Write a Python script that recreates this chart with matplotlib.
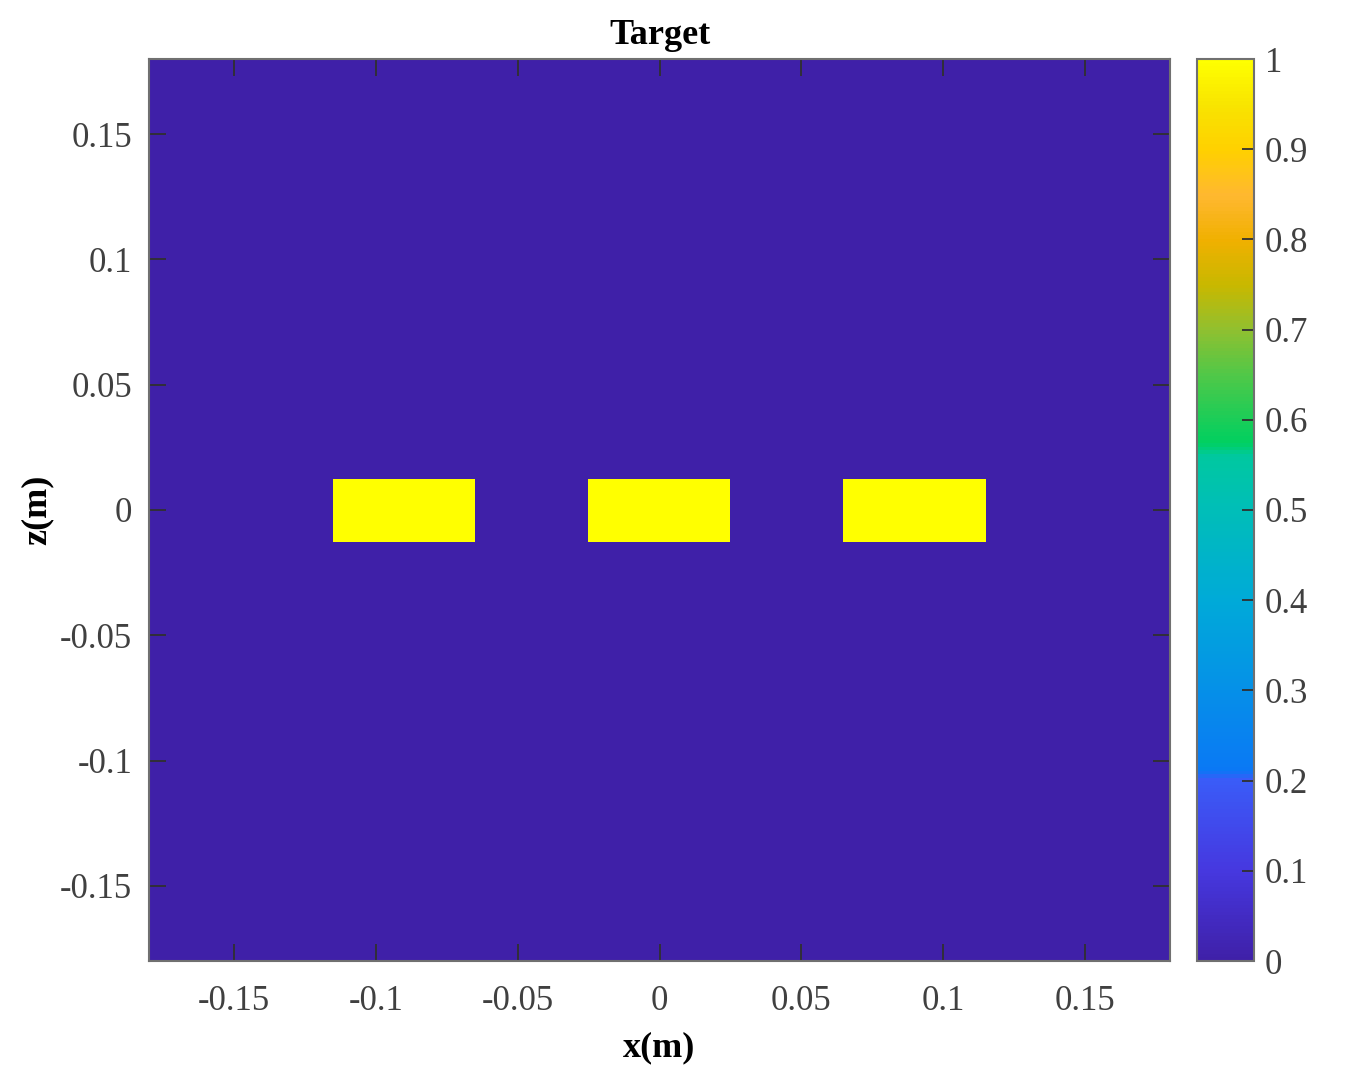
import numpy as np
import matplotlib
matplotlib.use("Agg")
import matplotlib.pyplot as plt
from matplotlib.colors import LinearSegmentedColormap

# ---- data ----
x_limits = [-0.18, 0.18]
z_limits = [-0.18, 0.18]
rect_x_left = [-0.115, -0.025, 0.065]
rect_x_right = [-0.065, 0.025, 0.115]
rect_z_bottom = [-0.0125, -0.0125, -0.0125]
rect_z_top = [0.0125, 0.0125, 0.0125]
rect_value = [1.0, 1.0, 1.0]
background_value = 0.0
x_ticks = [-0.15, -0.1, -0.05, 0, 0.05, 0.1, 0.15]
x_ticklabels = ["-0.15", "-0.1", "-0.05", "0", "0.05", "0.1", "0.15"]
z_ticks = [-0.15, -0.1, -0.05, 0, 0.05, 0.1, 0.15]
z_ticklabels = ["-0.15", "-0.1", "-0.05", "0", "0.05", "0.1", "0.15"]
cbar_ticks = [0, 0.1, 0.2, 0.3, 0.4, 0.5, 0.6, 0.7, 0.8, 0.9, 1]
cbar_ticklabels = ["0", "0.1", "0.2", "0.3", "0.4", "0.5", "0.6", "0.7", "0.8", "0.9", "1"]

# grid
n = 721
xs = np.linspace(x_limits[0], x_limits[1], n)
zs = np.linspace(z_limits[0], z_limits[1], n)
X, Z = np.meshgrid(xs, zs)
img = np.full_like(X, background_value)
for xl, xr, zb, zt, v in zip(rect_x_left, rect_x_right, rect_z_bottom, rect_z_top, rect_value):
    img[(X >= xl) & (X <= xr) & (Z >= zb) & (Z <= zt)] = v

# parula-like colormap (as it appears in the reference)
cm_pts = [
    (0.00, "#3F20A8"), (0.10, "#4638E0"), (0.20, "#3A5CF8"), (0.21, "#0A78F5"),
    (0.30, "#0590E8"), (0.40, "#00AAD8"), (0.50, "#00BEB8"), (0.56, "#00C8A0"),
    (0.575, "#00D060"), (0.65, "#50C848"), (0.70, "#90C030"), (0.75, "#C8B800"),
    (0.80, "#F0B000"), (0.85, "#FFB830"), (0.90, "#FFD000"), (0.95, "#F8E400"),
    (1.00, "#FFFF00"),
]
cmap = LinearSegmentedColormap.from_list("parula_like", cm_pts, N=256)

plt.rcParams['font.family'] = ['Liberation Serif', 'DejaVu Serif']

fig = plt.figure(figsize=(13.49, 10.87), dpi=100)
ax = fig.add_axes([149/1349, 1 - 961/1087, (1170-149)/1349, (961-59)/1087])
cax = fig.add_axes([1197/1349, 1 - 961/1087, 57/1349, (961-59)/1087])

im = ax.imshow(img, extent=[x_limits[0], x_limits[1], z_limits[0], z_limits[1]],
               origin="lower", aspect="auto", cmap=cmap, vmin=0, vmax=1,
               interpolation="nearest")
ax.set_xlim(x_limits)
ax.set_ylim(z_limits)
ax.set_xticks(x_ticks)
ax.set_xticklabels(x_ticklabels)
ax.set_yticks(z_ticks)
ax.set_yticklabels(z_ticklabels)
tick_col = "#404040"
ax.tick_params(direction="in", length=12, width=1.3, top=True, right=True,
               labelsize=25, colors="#303030", labelcolor=tick_col)
ax.tick_params(axis="y", pad=12)
ax.tick_params(axis="x", pad=17)
for s in ax.spines.values():
    s.set_color("#707070")
    s.set_linewidth(1.5)

ax.set_title("Target", fontsize=26, fontweight="bold", pad=11)
ax.set_xlabel("x(m)", fontsize=26, fontweight="bold", labelpad=10)
ax.set_ylabel("z(m)", fontsize=26, fontweight="bold", labelpad=5)

cb = fig.colorbar(im, cax=cax, ticks=cbar_ticks)
cb.ax.set_yticklabels(cbar_ticklabels)
cb.ax.tick_params(direction="in", length=9, width=1.3, labelsize=25,
                  colors="#303030", labelcolor=tick_col, pad=8)
cb.outline.set_edgecolor("#707070")
cb.outline.set_linewidth(1.5)

fig.savefig("out.png", dpi=100)
